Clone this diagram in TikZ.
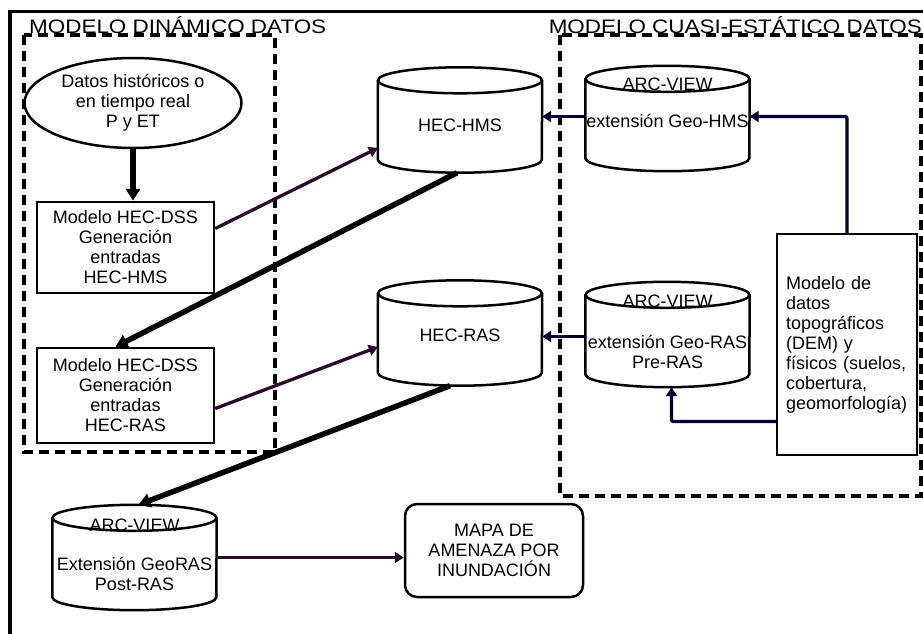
\documentclass[tikz,border=0pt]{standalone}
\usepackage{fontspec}
\setmainfont{Liberation Sans}
\usepackage{tikz}
\usetikzlibrary{shapes.geometric, arrows.meta, positioning}
\definecolor{plum}{HTML}{2A0A2A}
\definecolor{navy}{HTML}{000035}

% outline of a data store round an (invisible) node
\newcommand{\drum}[1]{%
    \draw[line width=2.5pt] ([yshift=-13pt]#1.north) ellipse[x radius=82pt, y radius=13pt];
    \draw[line width=2.5pt] ([yshift=-13pt]#1.north west) -- ([yshift=13pt]#1.south west)
        arc[start angle=180, end angle=360, x radius=82pt, y radius=13pt]
        -- ([yshift=-13pt]#1.north east);
}

\begin{document}
\begin{tikzpicture}[x=1pt, y=-1pt,
    txt/.style={font=\fontsize{18}{20}\selectfont, align=center, inner sep=0pt},
    ttl/.style={font=\fontsize{19.5}{24}\selectfont, xscale=1.15, inner sep=0pt},
    box/.style={draw, line width=2.5pt, txt},
    dbase/.style={rectangle, minimum width=164pt, minimum height=105pt, inner sep=0pt},
    zone/.style={line width=4pt, dash pattern=on 10pt off 6pt},
    thick arrow/.style={line width=5.5pt, -{Triangle[length=12pt, width=14pt]}},
    link/.style={line width=3.3pt, -{Triangle[length=9pt, width=11pt]}}]
    \useasboundingbox (0,0) rectangle (923,634);

    % Draw outer frame
    \draw[line width=3.5pt] (10,636) -- (10,11.5) -- (925,11.5);

    % Draw zone titles
    \node[ttl, anchor=base west] (tdin) at (29,34) {MODELO DINÁMICO DATOS};
    \node[ttl, anchor=base east] (tcua) at (922,34) {MODELO CUASI-ESTÁTICO DATOS};

    % Draw dashed zones
    \draw[zone] (24,35) rectangle (275,452);
    \draw[zone] (560,35) rectangle (921,496);

    % Dynamic model nodes
    \node[ellipse, draw, line width=2.5pt, minimum width=217pt, minimum height=90pt, txt]
        (datos) at (133,103) {Datos históricos o\\en tiempo real\\P y ET};
    \node[box, minimum width=177pt, minimum height=91pt] (dsshms) at (125.5,247.5)
        {Modelo HEC-DSS\\Generación\\entradas\\HEC-HMS};
    \node[box, minimum width=177pt, minimum height=95pt] (dssras) at (125.5,395.5)
        {Modelo HEC-DSS\\Generación\\entradas\\HEC-RAS};

    % Hydrologic and hydraulic models
    \node[dbase] (hms) at (460,120) {};
    \drum{hms}
    \node[txt] (hmstxt) at ([yshift=-5pt]hms.center) {HEC-HMS};
    \node[dbase] (ras) at (460,333) {};
    \drum{ras}
    \node[txt] (rastxt) at ([yshift=-2pt]ras.center) {HEC-RAS};

    % ARC-VIEW extensions
    \node[dbase] (geohms) at (667.5,118.5) {};
    \drum{geohms}
    \node[txt] (geohmsarc) at ([yshift=34pt]geohms.center) {ARC-VIEW};
    \node[txt] (geohmstxt) at ([yshift=-2pt]geohms.center) {extensión Geo-HMS};
    \node[dbase] (georas) at (667.5,334.5) {};
    \drum{georas}
    \node[txt] (georasarc) at ([yshift=33pt]georas.center) {ARC-VIEW};
    \node[txt] (georastxt) at ([yshift=-17pt]georas.center) {extensión Geo-RAS\\Pre-RAS};
    \node[dbase] (postras) at (134.5,557.5) {};
    \drum{postras}
    \node[txt] (postrasarc) at ([yshift=32pt]postras.center) {ARC-VIEW};
    \node[txt] (postrastxt) at ([yshift=-16pt]postras.center) {Extensión GeoRAS\\Post-RAS};

    % Data model and output
    \node[box, minimum width=140pt, minimum height=221pt, text width=122pt, align=left]
        (topo) at (847,344.5)
        {Modelo de\\datos\\topográficos\\(DEM) y\\físicos (suelos,\\cobertura,\\geomorfología)};
    \node[box, rounded corners=12pt, minimum width=178pt, minimum height=93pt]
        (mapa) at (494,550.5) {MAPA DE\\AMENAZA POR\\INUNDACIÓN};

    % Draw connectors
    \draw[thick arrow] (datos.south) -- (datos.south |- dsshms.north);
    \draw[link, plum] ([yshift=19pt]dsshms.east) -- ([yshift=-28pt]hms.west);
    \draw[thick arrow] ([xshift=-3pt]hms.south) -- ([xshift=-10pt]dssras.north);
    \draw[link, plum] ([yshift=-13pt]dssras.east) -- ([yshift=-14pt]ras.west);
    \draw[thick arrow] ([xshift=-10pt]ras.south) -- ([xshift=4pt]postras.north);
    \draw[link, plum] (postras.east) -- (postras.east -| mapa.west);
    \draw[link, navy] ([yshift=2pt]geohms.west) -- ([yshift=2pt]geohms.west -| hms.east);
    \draw[link, navy, rounded corners=2pt] (topo.north) |- ([yshift=2pt]geohms.east);
    \draw[link, navy] ([yshift=-2pt]georas.west) -- ([yshift=-2pt]georas.west -| ras.east);
    \draw[link, navy, rounded corners=2pt] ([yshift=-77pt]topo.west) -| ([xshift=4pt]georas.south);
\end{tikzpicture}
\end{document}
